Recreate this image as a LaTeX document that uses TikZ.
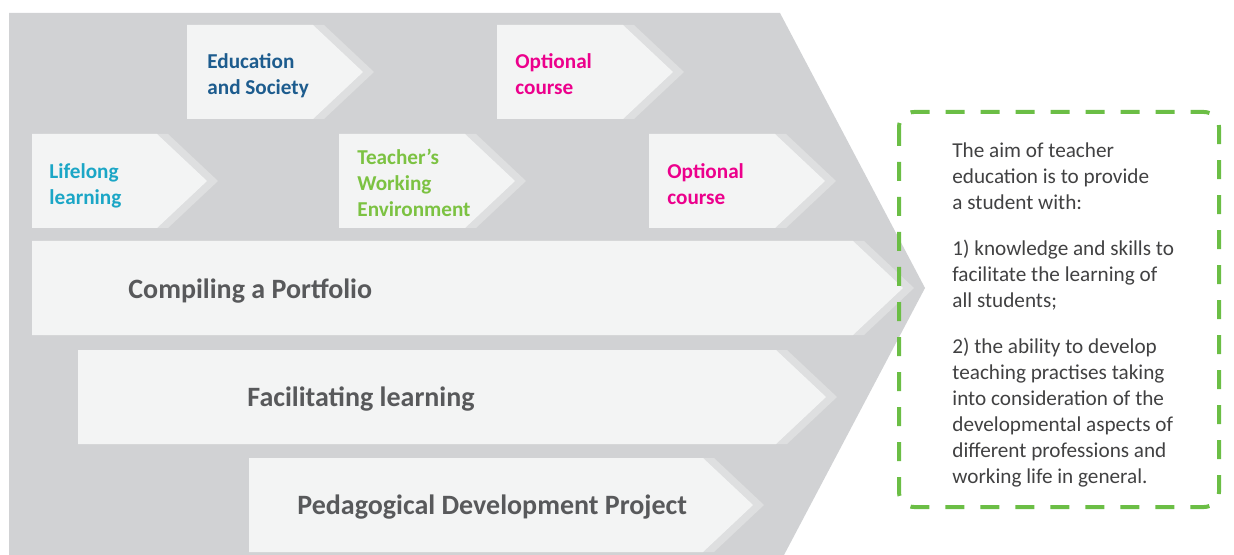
\documentclass[tikz,border=0pt]{standalone}
\usepackage{fontspec}
\setmainfont{Carlito}
\definecolor{panel}{HTML}{D1D2D4}
\definecolor{face}{HTML}{F3F4F4}
\definecolor{rim}{HTML}{DEDFE0}
\definecolor{edublue}{HTML}{1D5C8E}
\definecolor{lifecyan}{HTML}{1BA6C6}
\definecolor{workgreen}{HTML}{7CC242}
\definecolor{optpink}{HTML}{EC008C}
\definecolor{labelgray}{HTML}{58595B}
\definecolor{aimtext}{HTML}{414142}
\definecolor{aimgreen}{HTML}{6BBE45}
\begin{document}
\begin{tikzpicture}[x=0.5pt,y=-0.5pt]
   \tikzstyle{tag}=[anchor=west, align=left, inner sep=0pt, font=\fontsize{10.6}{13}\selectfont\bfseries]
   \tikzstyle{stage}=[anchor=west, inner sep=0pt, text=labelgray, font=\fontsize{14}{16}\selectfont\bfseries]
   \tikzstyle{aim}=[anchor=north west, align=left, inner sep=0pt, text=aimtext, font=\fontsize{10.6}{13}\selectfont]
   \useasboundingbox (0,0) rectangle (1234,555);
   \fill[panel] (9,13) -- (780,13) -- (925,288) -- (784,555) -- (9,555) -- cycle;
   % chevrons: left/top/tip
   \foreach \l/\t/\r in {187/25/363, 497/25/673, 32/134/207, 339/134/515, 649/134/825, 32/241/903, 78/350/826, 249/458/753} {
       \fill[rim] (\l+11,\t) -- (\r-39,\t) -- (\r+11,\t+47) -- (\r-39,\t+94) -- (\l+11,\t+94) -- cycle;
       \fill[face] (\l,\t) -- (\r-50,\t) -- (\r,\t+47) -- (\r-50,\t+94) -- (\l,\t+94) -- cycle;
   }
   \node[tag, text=edublue] (edu) at (207,76) {Education\\and Society};
   \node[tag, text=optpink] (opt1) at (515,74) {Optional\\course};
   \node[tag, text=lifecyan] (life) at (49,186) {Lifelong\\learning};
   \node[tag, text=workgreen] (work) at (357,183) {Teacher’s\\Working\\Environment};
   \node[tag, text=optpink] (opt2) at (667,184) {Optional\\course};
   \node[stage] (portfolio) at (128,291) {Compiling a Portfolio};
   \node[stage] (facil) at (247,399) {Facilitating learning};
   \node[stage] (pdp) at (297,507) {Pedagogical Development Project};
   \draw[aimgreen, line width=2pt, dash pattern=on 9.5pt off 8pt, rounded corners=7.5pt] (899,112) rectangle (1219,507);
   \node[aim] (goal) at (952,142) {The aim of teacher\\education is to provide\\a student with:\\[10pt]
       1) knowledge and skills to\\facilitate the learning of\\all students;\\[10pt]
       2) the ability to develop\\teaching practises taking\\into consideration of the\\developmental aspects of\\different professions and\\working life in general.};
\end{tikzpicture}
\end{document}
